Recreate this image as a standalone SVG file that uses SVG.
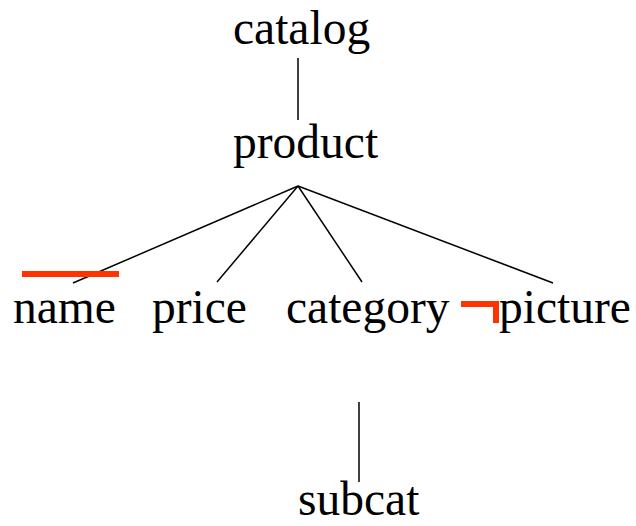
<svg xmlns="http://www.w3.org/2000/svg" width="636" height="526" viewBox="0 0 636 526">
  <style>
    .lbl { font-family: "Liberation Serif", "Times New Roman", serif; font-size: 47.5px; fill: #000; }
    .edge { stroke: #000; stroke-width: 1.5; fill: none; }
    .mark { fill: #ff3300; }
  </style>
  <rect width="636" height="526" fill="#fff"/>
  <g id="connectors">
    <line class="edge" x1="298" y1="58" x2="298" y2="120"/>
    <line class="edge" x1="298" y1="186" x2="73" y2="283"/>
    <line class="edge" x1="298" y1="186" x2="217" y2="282"/>
    <line class="edge" x1="298" y1="186" x2="362" y2="282"/>
    <line class="edge" x1="298" y1="186" x2="553" y2="283"/>
    <line class="edge" x1="359" y1="402" x2="359" y2="482"/>
  </g>
  <g id="catalog"><text class="lbl" x="233" y="44">catalog</text></g>
  <g id="product"><text class="lbl" x="233" y="158">product</text></g>
  <g id="name">
    <rect class="mark" x="22" y="271" width="97" height="6"/>
    <text class="lbl" x="13" y="323">name</text>
  </g>
  <g id="price"><text class="lbl" x="152" y="323">price</text></g>
  <g id="category"><text class="lbl" x="286" y="323">category</text></g>
  <g id="picture">
    <path class="mark" d="M461,301 H499 V323 H493 V307 H461 Z"/>
    <text class="lbl" x="499" y="323">picture</text>
  </g>
  <g id="subcat"><text class="lbl" x="298" y="515">subcat</text></g>
</svg>
